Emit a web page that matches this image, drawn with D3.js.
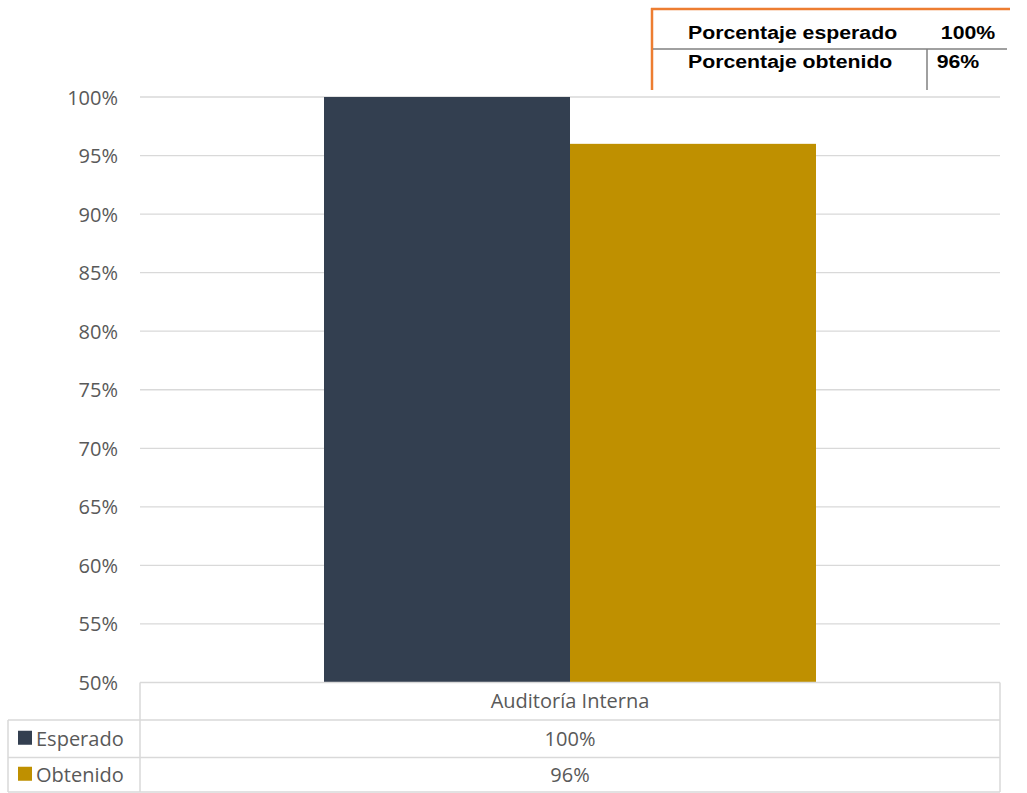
<!DOCTYPE html>
<html>
<head>
<meta charset="utf-8">
<script src="https://cdn.jsdelivr.net/npm/d3@7"></script>
<style>
  body { margin: 0; background: #fff; }
  svg { display: block; }
</style>
</head>
<body>
<div id="canvas"></div>
<script>
// chart data
var categories = ['Auditoría Interna'];
var seriesNames = ['Esperado', 'Obtenido'];
var seriesColors = ['#333f50', '#bf9000'];
var esperado = [1.00];
var obtenido = [0.96];
var yTicks = [0.50, 0.55, 0.60, 0.65, 0.70, 0.75, 0.80, 0.85, 0.90, 0.95, 1.00];
// little summary box top right
var summaryLabels = ['Porcentaje esperado', 'Porcentaje obtenido'];
var summaryValues = ['100%', '96%'];

window.onload = (function () {
    var W = 1027, H = 793;
    var svg = d3.select('#canvas').append('svg')
        .attr('width', W).attr('height', H);

    var left = 140, right = 1000, top = 97, bottom = 682.5;
    var pct = d3.format('.0%');

    var y = d3.scaleLinear().domain([0.5, 1]).range([bottom, top]);
    // one category, bars take ~57% of the band
    var x = d3.scaleBand().domain(categories).range([left, right]).paddingInner(0).paddingOuter(0.374);
    var xs = d3.scaleBand().domain(seriesNames).range([0, x.bandwidth()]);

    // gridlines
    svg.append('g').selectAll('line').data(yTicks.slice(1)).enter().append('line')
        .attr('x1', left).attr('x2', right)
        .attr('y1', function (d) { return y(d); })
        .attr('y2', function (d) { return y(d); })
        .attr('stroke', '#d9d9d9').attr('stroke-width', 1.3);

    // y axis labels
    var yAxis = d3.axisLeft(y).tickValues(yTicks).tickFormat(pct).tickSize(0).tickPadding(0);
    var ga = svg.append('g').attr('transform', 'translate(118,0)').call(yAxis);
    ga.select('.domain').remove();
    ga.selectAll('text')
        .attr('font-family', '"Open Sans", sans-serif')
        .attr('font-size', 20).attr('fill', '#595959').attr('dy', '0.35em');

    // bars
    var series = [esperado, obtenido];
    categories.forEach(function (c, ci) {
        var g = svg.append('g').attr('transform', 'translate(' + x(c) + ',0)');
        g.selectAll('rect').data(seriesNames).enter().append('rect')
            .attr('x', function (d) { return xs(d); })
            .attr('width', xs.bandwidth())
            .attr('y', function (d, i) { return y(series[i][ci]); })
            .attr('height', function (d, i) { return bottom - y(series[i][ci]); })
            .attr('fill', function (d, i) { return seriesColors[i]; });
    });

    // data table under the chart
    var rowY = [bottom, 720, 757.5, 792];
    var tg = svg.append('g').attr('stroke', '#d9d9d9').attr('stroke-width', 1.5).attr('fill', 'none');
    tg.append('line').attr('x1', left).attr('x2', right).attr('y1', rowY[0]).attr('y2', rowY[0]);
    [1, 2, 3].forEach(function (i) {
        tg.append('line').attr('x1', 8).attr('x2', right).attr('y1', rowY[i]).attr('y2', rowY[i]);
    });
    tg.append('line').attr('x1', left).attr('x2', left).attr('y1', rowY[0]).attr('y2', rowY[3]);
    tg.append('line').attr('x1', right).attr('x2', right).attr('y1', rowY[0]).attr('y2', rowY[3]);
    tg.append('line').attr('x1', 8).attr('x2', 8).attr('y1', rowY[1]).attr('y2', rowY[3]);

    var txt = function (sel) {
        return sel.attr('font-family', '"Open Sans", sans-serif')
            .attr('font-size', 20).attr('fill', '#595959').attr('dy', '0.35em');
    };
    categories.forEach(function (c) {
        txt(svg.append('text').attr('x', x(c) + x.bandwidth() / 2)
            .attr('y', (rowY[0] + rowY[1]) / 2).attr('text-anchor', 'middle').text(c));
        series.forEach(function (s, i) {
            txt(svg.append('text').attr('x', x(c) + x.bandwidth() / 2)
                .attr('y', (rowY[i + 1] + rowY[i + 2]) / 2).attr('text-anchor', 'middle')
                .text(pct(s[categories.indexOf(c)])));
        });
    });
    seriesNames.forEach(function (n, i) {
        var cy = (rowY[i + 1] + rowY[i + 2]) / 2;
        svg.append('rect').attr('x', 18).attr('y', cy - 8).attr('width', 14).attr('height', 14)
            .attr('fill', seriesColors[i]);
        txt(svg.append('text').attr('x', 36).attr('y', cy).text(n));
    });

    // summary box
    var sb = svg.append('g');
    sb.append('line').attr('x1', 651).attr('x2', 1010).attr('y1', 9).attr('y2', 9)
        .attr('stroke', '#ed7d31').attr('stroke-width', 2.5);
    sb.append('line').attr('x1', 652).attr('x2', 652).attr('y1', 8).attr('y2', 90)
        .attr('stroke', '#ed7d31').attr('stroke-width', 2.5);
    sb.append('line').attr('x1', 653).attr('x2', 1007).attr('y1', 49).attr('y2', 49)
        .attr('stroke', '#808080').attr('stroke-width', 1.5);
    sb.append('line').attr('x1', 927).attr('x2', 927).attr('y1', 49).attr('y2', 90)
        .attr('stroke', '#808080').attr('stroke-width', 1.5);
    var baseY = [39, 68];
    var valX = [968, 958];
    var bold = function (g, s, anchor) {
        return g.append('text').text(s).attr('text-anchor', anchor)
            .attr('font-family', '"Liberation Sans", Arial, sans-serif')
            .attr('font-weight', 'bold').attr('font-size', 18.5).attr('fill', '#000');
    };
    summaryLabels.forEach(function (l, i) {
        bold(sb.append('g').attr('transform', 'translate(688,' + baseY[i] + ') scale(1.15,1)'), l, 'start');
        bold(sb.append('g').attr('transform', 'translate(' + valX[i] + ',' + baseY[i] + ') scale(1.15,1)'),
            summaryValues[i], 'middle');
    });
}());
</script>
</body>
</html>
